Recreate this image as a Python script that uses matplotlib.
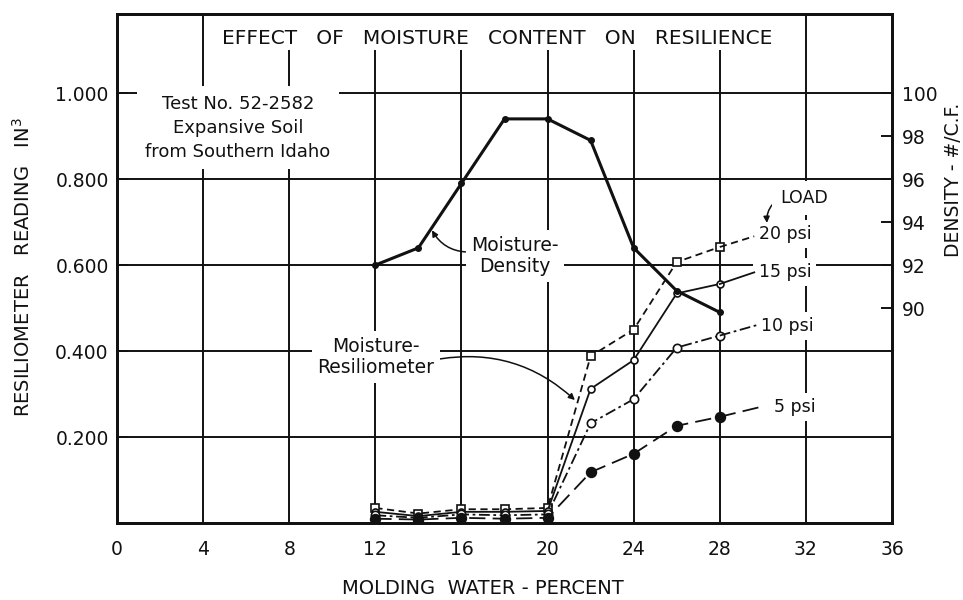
import matplotlib
matplotlib.use("Agg")
import matplotlib.pyplot as plt

# molding water (percent) for every test point
moisture = [12, 14, 16, 18, 20, 22, 24, 26, 28]

# dry density, lb per cubic foot (right axis)
density = [92.0, 92.8, 95.8, 98.8, 98.8, 97.8, 92.8, 90.8, 89.8]

# resiliometer readings, cubic inches, one list per load
load_20 = [0.035, 0.022, 0.032, 0.032, 0.035, 0.388, 0.450, 0.607, 0.642]
load_15 = [0.026, 0.016, 0.026, 0.026, 0.028, 0.312, 0.379, 0.534, 0.556]
load_10 = [0.018, 0.012, 0.020, 0.018, 0.020, 0.232, 0.288, 0.408, 0.436]
load_5 = [0.010, 0.008, 0.012, 0.010, 0.012, 0.118, 0.161, 0.226, 0.247]
load_names = ["20 psi", "15 psi", "10 psi", "5 psi"]

x_ticks = [0, 4, 8, 12, 16, 20, 24, 28, 32, 36]
left_ticks = [0.2, 0.4, 0.6, 0.8, 1.0]
left_labels = ["0.200", "0.400", "0.600", "0.800", "1.000"]
right_ticks = [90, 92, 94, 96, 98, 100]

YMAX = 1.184
INK = "#111111"
FONT = "DejaVu Sans"
plt.rcParams["font.family"] = FONT

fig = plt.figure(figsize=(9.63, 6.0), dpi=100)
ax = fig.add_axes([117 / 963, 77 / 600, 775 / 963, 509 / 600])
ax.set_xlim(0, 36)
ax.set_ylim(0, YMAX)

# grid drawn by hand: the inner verticals stop under the title strip
for gx in x_ticks[1:-1]:
    top = YMAX if gx in (4, 32) else 1.10
    ax.vlines(gx, 0, top, color=INK, lw=1.4, zorder=1)
ax.hlines(left_ticks, 0, 36, color=INK, lw=1.4, zorder=1)

for s in ax.spines.values():
    s.set_linewidth(2.0)
    s.set_color(INK)

ax.set_xticks(x_ticks)
ax.set_xticklabels([str(v) for v in x_ticks])
ax.set_yticks(left_ticks)
ax.set_yticklabels(left_labels)
ax.tick_params(axis="x", length=0, pad=12, labelsize=13.5, colors=INK)
ax.tick_params(axis="y", direction="in", length=8, width=1.4, pad=6,
               labelsize=13.5, colors=INK)

# load curves: (values, linestyle, marker, marker face, marker size, leader end, label pos)
styles = [
    (load_20, (0, (4, 2.5)), "s", "white", 6, (29.6, 0.667), (29.8, 0.672)),
    (load_15, "-", "o", "white", 5, (29.6, 0.583), (29.8, 0.584)),
    (load_10, (0, (6, 2, 1.5, 2)), "o", "white", 6, (29.7, 0.460), (29.9, 0.458)),
    (load_5, (0, (9, 4)), "o", INK, 7, (29.9, 0.270), (30.5, 0.270)),
]
box = dict(boxstyle="square,pad=0.3", fc="white", ec="none")

for (vals, ls, mk, mfc, ms, lead, lab), name in zip(styles, load_names):
    ax.plot(moisture, vals, color=INK, lw=1.3, ls=ls, marker=mk, mfc=mfc,
            mec=INK, mew=1.2, ms=ms, zorder=3)
    ax.plot([moisture[-1], lead[0]], [vals[-1], lead[1]], color=INK, lw=1.3,
            ls=ls, zorder=3)
    ax.text(lab[0], lab[1], name, ha="left", va="center", fontsize=12.5,
            color=INK, bbox=box, zorder=2)

ax.annotate("LOAD", xy=(30.19, 0.698), xytext=(30.8, 0.756), ha="left",
            va="center", fontsize=12.5, color=INK,
            bbox=dict(boxstyle="square,pad=0.45", fc="white", ec="none"),
            arrowprops=dict(arrowstyle="-|>", color=INK, lw=1.1,
                            mutation_scale=9, shrinkA=0, shrinkB=0,
                            relpos=(0.0, 0.5),
                            connectionstyle="arc3,rad=0.3"),
            zorder=2)

ax.text(17.65, 1.128, "EFFECT   OF   MOISTURE   CONTENT   ON   RESILIENCE",
        ha="center", va="center", fontsize=14.5, color=INK)

ax.text(5.62, 0.919, "Test No. 52-2582\nExpansive Soil\nfrom Southern Idaho",
        ha="center", va="center", multialignment="center", fontsize=13,
        linespacing=1.45, color=INK,
        bbox=dict(boxstyle="square,pad=0.45", fc="white", ec="none"), zorder=2)

ax.annotate("Moisture-\nDensity", xy=(14.63, 0.681), xytext=(18.49, 0.621),
            ha="center", va="center", multialignment="center", fontsize=13.5,
            linespacing=1.15, color=INK, bbox=box,
            arrowprops=dict(arrowstyle="-|>", color=INK, lw=1.1,
                            mutation_scale=9, shrinkA=0, shrinkB=0,
                            relpos=(0.0, 0.6),
                            connectionstyle="arc3,rad=-0.3"),
            zorder=2)

ax.annotate("Moisture-\nResiliometer", xy=(21.27, 0.286), xytext=(12.03, 0.386),
            ha="center", va="center", multialignment="center", fontsize=13.5,
            linespacing=1.15, color=INK, bbox=box,
            arrowprops=dict(arrowstyle="-|>", color=INK, lw=1.1,
                            mutation_scale=9, shrinkA=0, shrinkB=0,
                            relpos=(1.0, 0.43),
                            connectionstyle="arc3,rad=-0.25"),
            zorder=2)

# density on the right scale: 80 at the bottom, 2 units per 0.1 on the left
ax2 = ax.twinx()
ax2.set_ylim(80, 80 + 20 * YMAX)
ax2.set_yticks(right_ticks)
ax2.set_yticklabels([str(v) for v in right_ticks])
ax2.tick_params(axis="y", direction="in", length=8, width=1.4, pad=7,
                labelsize=13.5, colors=INK)
for s in ax2.spines.values():
    s.set_linewidth(2.0)
    s.set_color(INK)
ax2.plot(moisture, density, color=INK, lw=2.2, marker="o", ms=4, zorder=3)

fig.text(23 / 963, 1 - 267 / 600, "RESILIOMETER   READING   IN$^3$",
         rotation=90, ha="center", va="center", fontsize=14, color=INK)
fig.text(953 / 963, 1 - 180 / 600, "DENSITY - #/C.F.", rotation=90,
         ha="center", va="center", fontsize=13.5, color=INK)
fig.text(483 / 963, 1 - 588 / 600, "MOLDING  WATER - PERCENT",
         ha="center", va="center", fontsize=14, color=INK)

fig.savefig("out.png", dpi=100)
